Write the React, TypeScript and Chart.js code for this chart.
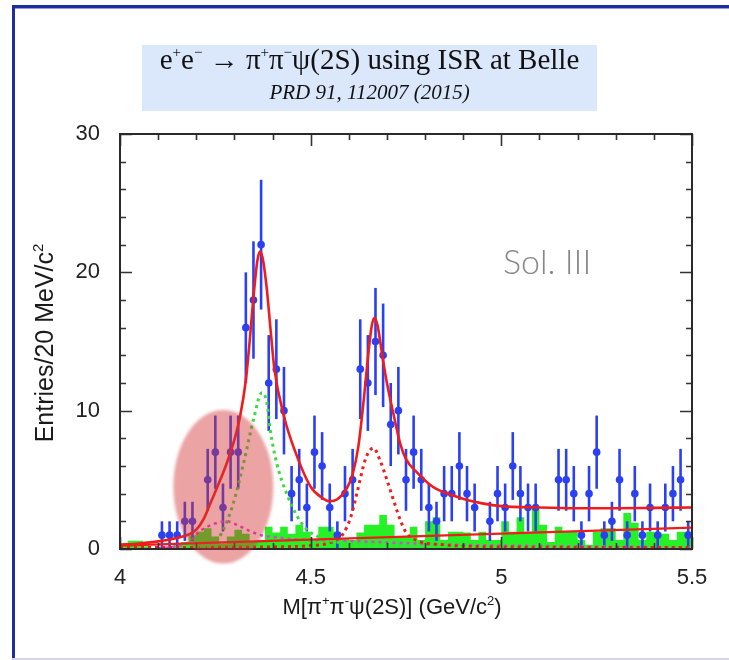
import React, { useEffect, useRef } from 'react';
import { Chart, registerables } from 'chart.js';
Chart.register(...registerables);

// ---------- data ----------
const BIN_W = 0.02;
// bin centres 4.01 ... 5.49 (20 MeV bins)
const massBins: number[] = Array.from({ length: 75 }, (_, i) => Math.round((4.01 + i * BIN_W) * 1000) / 1000);

// observed entries per bin (null = empty bin, not drawn)
const entries: (number | null)[] = [
  null, null, null, null, null, 1, 1, 1, 2, 2,
  null, 5, 7, 3, 7, 7, 16, 18, 22, 12,
  13, 10, 4, 5, 3, 7, 6, 3, 1, 4,
  5, 13, 12, 15, 14, 9, 10, 5, 7, 5,
  3, 2, 4, 4, 6, 4, 3, null, 2, 4,
  3, 6, 4, 3, 3, null, null, 5, 5, 4,
  1, 4, 7, 1, 2, 5, 1, 4, 1, 3,
  1, 3, 4, 5, 1,
];

// sideband background histogram (green)
const sideband: number[] = [
  0.3, 0.4, 0.6, 0.6, 0.2, 0, 0, 0, 0.3, 0.5,
  1.0, 1.25, 1.5, 0.9, 0.4, 0.9, 1.4, 1.1, 0.5, 0.6,
  1.6, 1.2, 1.6, 1.1, 1.75, 1.25, 0.7, 1.6, 1.6, 1.25,
  0.7, 0.65, 1.2, 1.75, 1.75, 2.45, 1.75, 0.9, 0.9, 1.6,
  0.65, 2.0, 2.3, 0.65, 1.25, 1.25, 1.2, 0.65, 1.25, 0.65,
  0.65, 2.0, 1.25, 2.3, 1.25, 2.85, 1.75, 0.5, 1.6, 1.25,
  1.25, 0.65, 0.3, 1.25, 1.5, 1.5, 0.65, 2.6, 1.9, 0.65,
  1.25, 1.2, 1.1, 0.65, 1.25,
];

// fit curves: [mass, entries]
const fitTotal: [number, number][] = [
  [4.0, 0.3], [4.05, 0.4], [4.1, 0.55], [4.15, 0.8], [4.18, 1.05], [4.2, 1.4], [4.22, 2.2],
  [4.24, 3.5], [4.26, 4.8], [4.28, 6.2], [4.3, 7.9], [4.315, 9.6], [4.33, 12.2], [4.34, 15.0],
  [4.35, 18.2], [4.36, 20.8], [4.367, 21.5], [4.375, 20.9], [4.385, 18.8], [4.395, 15.8],
  [4.405, 13.0], [4.43, 9.6], [4.46, 7.0], [4.5, 4.5], [4.53, 3.7], [4.55, 3.45], [4.57, 3.6],
  [4.595, 4.4], [4.61, 5.4], [4.625, 7.4], [4.64, 11.0], [4.65, 13.8], [4.66, 16.1],
  [4.667, 16.7], [4.675, 16.2], [4.69, 13.6], [4.70, 12.0], [4.72, 9.4], [4.735, 7.6],
  [4.75, 6.5], [4.78, 5.5], [4.82, 4.5], [4.87, 3.9], [4.91, 3.55], [4.95, 3.3], [5.0, 3.1],
  [5.1, 3.0], [5.2, 2.95], [5.3, 2.95], [5.4, 2.97], [5.5, 3.0],
];
const fitBackground: [number, number][] = [[4.0, 0.25], [5.5, 1.55]];
const y4360: [number, number][] = [
  [4.2, 0.1], [4.245, 0.4], [4.271, 1.4], [4.297, 3.3], [4.324, 6.2], [4.35, 9.35],
  [4.372, 11.3], [4.385, 10.6], [4.394, 8.6], [4.411, 6.2], [4.437, 4.0], [4.464, 2.4],
  [4.49, 1.4], [4.52, 0.9], [4.56, 0.55], [4.6, 0.4], [4.7, 0.25], [4.8, 0.15],
];
const y4660: [number, number][] = [
  [4.0, 0.1], [4.4, 0.15], [4.5, 0.25], [4.55, 0.45], [4.585, 1.1], [4.605, 2.3], [4.621, 4.0],
  [4.645, 6.6], [4.665, 7.3], [4.682, 6.4], [4.70, 5.0], [4.717, 3.55], [4.735, 2.1],
  [4.75, 1.2], [4.78, 0.6], [4.85, 0.3], [5.0, 0.15], [5.5, 0.1],
];
const y4220: [number, number][] = [
  [4.1, 0.05], [4.15, 0.2], [4.175, 0.4], [4.21, 1.3], [4.25, 1.85], [4.28, 2.0], [4.31, 1.7],
  [4.34, 1.3], [4.37, 1.0], [4.41, 0.85], [4.45, 0.72], [4.55, 0.62], [4.65, 0.53],
  [4.75, 0.42], [4.85, 0.33], [5.0, 0.25], [5.25, 0.18], [5.5, 0.12],
];

const xTickLabels = [4, 4.5, 5, 5.5];
const yTickLabels = [0, 10, 20, 30];

// highlight ellipse (data units)
const highlight = { mass: 4.271, value: 4.5, rMass: 0.131, rValue: 5.55 };

// ---------- helpers ----------
const BLUE = '#2b40f2';
const RED = '#f01c1c';
const SANS = '"Liberation Sans", Arial, sans-serif';
const SERIF = '"Liberation Serif", "Times New Roman", serif';

type Seg = { t: string; sup?: boolean };
function drawRich(ctx: CanvasRenderingContext2D, segs: Seg[], x: number, y: number, size: number,
  family: string, style = '', supScale = 0.6, supRise = 0.4) {
  const main = `${style} ${size}px ${family}`;
  const sup = `${style} ${Math.round(size * supScale)}px ${family}`;
  let w = 0;
  for (const s of segs) { ctx.font = s.sup ? sup : main; w += ctx.measureText(s.t).width; }
  let cx = x - w / 2;
  ctx.textAlign = 'left';
  ctx.textBaseline = 'alphabetic';
  for (const s of segs) {
    ctx.font = s.sup ? sup : main;
    ctx.fillText(s.t, cx, s.sup ? y - size * supRise : y);
    cx += ctx.measureText(s.t).width;
  }
}

const pts = (a: [number, number][]) => a.map(([x, y]) => ({ x, y }));

const decorPlugin = {
  id: 'decor',
  beforeDraw(chart: any) {
    const ctx: CanvasRenderingContext2D = chart.ctx;
    ctx.save();
    ctx.fillStyle = '#ffffff';
    ctx.fillRect(0, 0, chart.width, chart.height);
    // outer frame
    ctx.fillStyle = '#1f2c9c';
    ctx.fillRect(12, 5, chart.width - 12, 3);
    ctx.fillRect(12, 5, 3, chart.height - 5);
    ctx.fillStyle = '#8f9be0';
    ctx.fillRect(15, 8, chart.width - 15, 1);
    ctx.fillStyle = '#d4d4e8';
    ctx.fillRect(12, chart.height - 2, chart.width - 12, 2);
    // title box
    ctx.fillStyle = '#dbe7fb';
    ctx.fillRect(142, 45, 455, 66);
    ctx.fillStyle = '#111';
    drawRich(ctx, [
      { t: 'e' }, { t: '+', sup: true }, { t: 'e' }, { t: '\u2212', sup: true }, { t: ' \u2192 \u03c0' },
      { t: '+', sup: true }, { t: '\u03c0' }, { t: '\u2212', sup: true }, { t: '\u03c8(2S) using ISR at Belle' },
    ], 369.5, 69, 29, SERIF, '', 0.5, 0.4);
    drawRich(ctx, [{ t: 'PRD 91, 112007 (2015)' }], 369.5, 99, 21, SERIF, 'italic');
    ctx.restore();
  },
  beforeDatasetDraw(chart: any, args: any) {
    const ds = chart.data.datasets[args.index];
    if (ds.label !== 'data') return;
    const ctx: CanvasRenderingContext2D = chart.ctx;
    const meta = chart.getDatasetMeta(args.index);
    const ys = chart.scales.y;
    ctx.save();
    ctx.strokeStyle = BLUE;
    ctx.lineWidth = 2.6;
    meta.data.forEach((el: any, i: number) => {
      const v = ds.data[i].y;
      if (v == null) return;
      const e = Math.sqrt(v);
      ctx.beginPath();
      ctx.moveTo(el.x, ys.getPixelForValue(v + e));
      ctx.lineTo(el.x, ys.getPixelForValue(Math.max(0, v - e)));
      ctx.stroke();
    });
    ctx.restore();
  },
  afterDraw(chart: any) {
    const ctx: CanvasRenderingContext2D = chart.ctx;
    const a = chart.chartArea;
    const xs = chart.scales.x, ys = chart.scales.y;
    ctx.save();
    // inward ticks on all sides
    ctx.strokeStyle = '#333';
    ctx.lineWidth = 1.6;
    ctx.beginPath();
    for (let k = 0; k <= 15; k++) {
      const yv = k * 2;
      const py = Math.round(ys.getPixelForValue(yv)) + 0.5;
      const L = yv % 10 === 0 ? 12 : 6;
      ctx.moveTo(a.left, py); ctx.lineTo(a.left + L, py);
      ctx.moveTo(a.right, py); ctx.lineTo(a.right - L, py);
    }
    for (let k = 0; k <= 15; k++) {
      const xv = 4 + k * 0.1;
      const px = Math.round(xs.getPixelForValue(xv)) + 0.5;
      const L = k % 5 === 0 ? 12 : 6;
      ctx.moveTo(px, a.bottom); ctx.lineTo(px, a.bottom - L);
      ctx.moveTo(px, a.top); ctx.lineTo(px, a.top + L);
    }
    ctx.stroke();
    ctx.strokeStyle = '#2a2a2a';
    ctx.lineWidth = 2;
    ctx.strokeRect(a.left, a.top, a.right - a.left, a.bottom - a.top);

    // axis titles
    ctx.fillStyle = '#1a1a1a';
    drawRich(ctx, [
      { t: 'M[\u03c0' }, { t: '+', sup: true }, { t: '\u03c0' }, { t: '-', sup: true },
      { t: '\u03c8(2S)] (GeV/c' }, { t: '2', sup: true }, { t: ')' },
    ], 392, 614, 22, SANS);
    ctx.save();
    ctx.translate(53, 343);
    ctx.rotate(-Math.PI / 2);
    drawRich(ctx, [{ t: 'Entries/20 MeV/c' }, { t: '2', sup: true }], 0, 0, 25, SANS);
    ctx.restore();

    // solution label
    ctx.fillStyle = '#868686';
    ctx.font = `300 34px Lato, "Open Sans", sans-serif`;
    ctx.textAlign = 'left';
    ctx.textBaseline = 'alphabetic';
    ctx.fillText('Sol. III', 503, 274);

    // highlight ellipse
    const cx = xs.getPixelForValue(highlight.mass);
    const cy = ys.getPixelForValue(highlight.value);
    const rx = xs.getPixelForValue(highlight.mass + highlight.rMass) - cx;
    const ry = cy - ys.getPixelForValue(highlight.value + highlight.rValue);
    ctx.filter = 'blur(1.5px)';
    ctx.fillStyle = 'rgba(210, 50, 50, 0.45)';
    ctx.beginPath();
    ctx.ellipse(cx, cy, rx, ry, 0, 0, Math.PI * 2);
    ctx.fill();
    ctx.restore();
  },
};

export default function App() {
  const ref = useRef<HTMLCanvasElement>(null);
  useEffect(() => {
    if (!ref.current) return;
    const histPts = sideband.map((v, i) => ({ x: Math.round((massBins[i] - BIN_W / 2) * 1000) / 1000, y: v }));
    histPts.push({ x: 5.5, y: sideband[sideband.length - 1] });
    const dataPts = massBins.map((m, i) => ({ x: m, y: entries[i] }));
    const curve = (d: [number, number][], color: string, width: number, dash: number[] | undefined, order: number) => ({
      type: 'line' as const,
      data: pts(d),
      borderColor: color,
      borderWidth: width,
      borderDash: dash || [],
      pointRadius: 0,
      showLine: true,
      fill: false,
      tension: 0.4,
      cubicInterpolationMode: 'monotone' as const,
      order,
    });
    const chart = new Chart(ref.current, {
      type: 'scatter',
      data: {
        datasets: [
          {
            type: 'line',
            label: 'sideband',
            data: histPts,
            stepped: 'after',
            borderWidth: 0,
            borderColor: 'rgba(0,0,0,0)',
            backgroundColor: '#26f026',
            fill: 'origin',
            pointRadius: 0,
            order: 10,
          } as any,
          {
            label: 'data',
            data: dataPts as any,
            pointRadius: 3.8,
            pointBackgroundColor: BLUE,
            pointBorderWidth: 0,
            showLine: false,
            order: 5,
          },
          curve(y4220, '#e040e0', 2.5, [3, 4], 4),
          curve(y4360, '#3ddc3d', 3, [3, 4], 3),
          curve(y4660, RED, 3, [3, 4], 3),
          curve(fitBackground, RED, 2.2, undefined, 2),
          curve(fitTotal, RED, 2.6, undefined, 1),
        ] as any,
      },
      options: {
        responsive: false,
        animation: false,
        devicePixelRatio: 1,
        layout: { padding: { left: 8, top: 134, right: 37, bottom: 0 } },
        plugins: { legend: { display: false }, tooltip: { enabled: false } },
        scales: {
          x: {
            type: 'linear', min: 4, max: 5.5,
            grid: { display: false }, border: { display: false },
            afterBuildTicks: (s: any) => { s.ticks = xTickLabels.map((v) => ({ value: v })); },
            ticks: {
              autoSkip: false, maxRotation: 0, padding: 8, color: '#222',
              font: { family: SANS, size: 22 },
              callback: (v: any) => String(v),
            },
            afterFit: (s: any) => { s.height = 111; },
          },
          y: {
            type: 'linear', min: 0, max: 30,
            grid: { display: false }, border: { display: false },
            afterBuildTicks: (s: any) => { s.ticks = yTickLabels.map((v) => ({ value: v })); },
            ticks: {
              padding: 12, color: '#222',
              font: { family: SANS, size: 22 },
              callback: (v: any) => String(v),
            },
            afterFit: (s: any) => { s.width = 112; },
          },
        },
      } as any,
      plugins: [decorPlugin],
    });
    return () => chart.destroy();
  }, []);
  return (
    <div style={{ position: 'absolute', left: 0, top: 0, width: 729, height: 660, background: '#fff' }}>
      <canvas ref={ref} width={729} height={660} style={{ width: 729, height: 660, display: 'block' }} />
    </div>
  );
}
